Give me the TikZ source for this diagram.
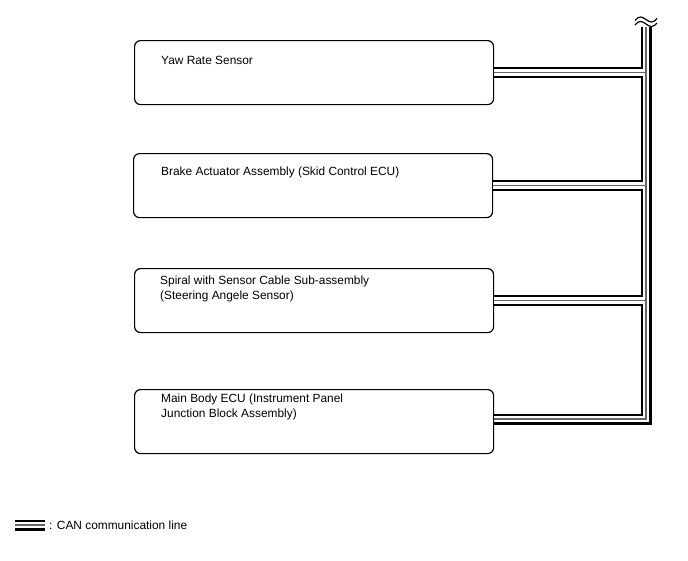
\documentclass[tikz,border=0pt]{standalone}
\usepackage{fontspec}
\setmainfont{Liberation Sans}
\usetikzlibrary{calc}

\tikzset{
  unitbox/.style={draw, line width=1.2pt, rounded corners=6pt, minimum width=359pt, minimum height=64pt, anchor=north west, inner sep=0pt},
  unittext/.style={anchor=north west, align=left, inner sep=0pt, font=\fontsize{11.9}{14.8}\selectfont},
}

\begin{document}
\begin{tikzpicture}[x=1pt, y=-1pt]
    \useasboundingbox (0,0) rectangle (688,560);

    % ECU boxes
    \node[unitbox] (yaw) at (134,40) {};
    \node[unitbox] (brake) at (133,153) {};
    \node[unitbox] (spiral) at (134,268) {};
    \node[unitbox] (mainecu) at (134,389) {};

    % box texts
    \node[unittext] (yawtxt) at (161,56) {Yaw Rate Sensor};
    \node[unittext] (braketxt) at (161,167) {Brake Actuator Assembly (Skid Control ECU)};
    \node[unittext] (spiraltxt) at (160,276) {Spiral with Sensor Cable Sub-assembly\\(Steering Angele Sensor)};
    \node[unittext] (mainecutxt) at (161,394) {Main Body ECU (Instrument Panel\\Junction Block Assembly)};

    % CAN bus
    \coordinate (bustop) at (646,27);
    \coordinate (mainstub) at ([yshift=2.5pt]mainecu.east);
    \coordinate (legA) at (15,525);
    \coordinate (legB) at (45,525);
    \foreach \w/\c in {11/black, 6.6/white, 1.6/black!60} {
        \draw[line width=\w pt, draw=\c] (bustop) -- (bustop |- mainstub) -- (mainstub);
        \draw[line width=\w pt, draw=\c] (yaw.east) -- (yaw.east -| bustop);
        \draw[line width=\w pt, draw=\c] (brake.east) -- (brake.east -| bustop);
        \draw[line width=\w pt, draw=\c] (spiral.east) -- (spiral.east -| bustop);
        \draw[line width=\w pt, draw=\c] (legA) -- (legB);
    }

    % break mark at top of bus
    \draw[line width=1.2pt] (635,20.5) .. controls (639,15.5) and (642,16.5) .. (646,19.5) .. controls (650,22.5) and (653,23.5) .. (657,18.5);
    \draw[line width=1.2pt] (635,25) .. controls (639,20) and (642,21) .. (646,24) .. controls (650,27) and (653,28) .. (657,23);

    % legend
    \node[unittext, anchor=west] (legtxt) at ([xshift=4pt]legB) {: CAN communication line};
\end{tikzpicture}
\end{document}
